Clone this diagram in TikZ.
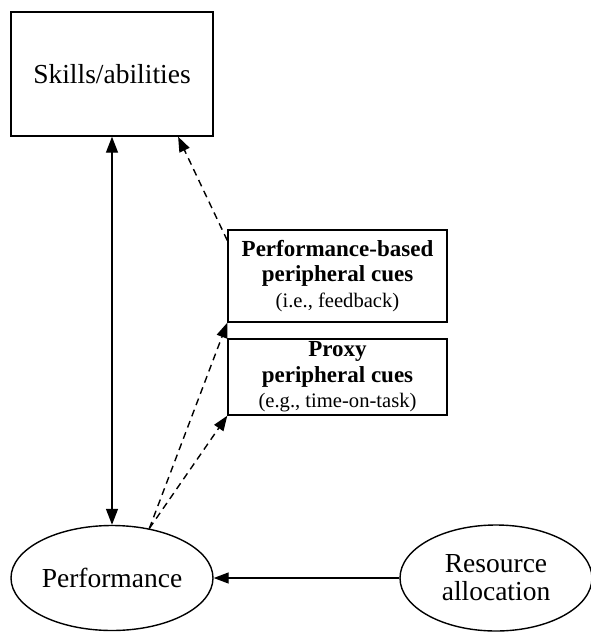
\documentclass[tikz,border=0pt]{standalone}
\usepackage{fontspec}
\setmainfont{Liberation Serif}
\usetikzlibrary{arrows.meta,shapes.geometric,calc}
\begin{document}
\begin{tikzpicture}[x=1pt,y=-1pt,
  line width=1.4pt,
  tip/.style={-{Triangle[length=15pt,width=11pt]}},
  dashedline/.style={dash pattern=on 7pt off 5pt},
  bigtext/.style={font=\fontsize{27.5}{28}\selectfont},
  rectbox/.style={draw, rectangle, inner sep=0pt, align=center},
  ovalbox/.style={draw, ellipse, inner sep=0pt, align=center, bigtext},
  cuebox/.style={rectbox, minimum width=219pt, font=\fontsize{23}{25.5}\selectfont}
]
\useasboundingbox (0,0) rectangle (591,632);

\node[rectbox, bigtext, minimum width=202pt, minimum height=124pt] (skills) at (112,74) {Skills/abilities};

\node[ovalbox, minimum width=202pt, minimum height=105pt] (perf) at (112,578) {Performance};

\node[ovalbox, minimum width=192pt, minimum height=106pt] (res) at (496,578) {Resource\\allocation};

\node[cuebox, minimum height=92pt] (cue1) at (337.5,276)
  {\textbf{Performance-based}\\\textbf{peripheral cues}\\{\fontsize{20.6}{25.5}\selectfont (i.e., feedback)}};

\node[cuebox, minimum height=76pt] (cue2) at (337.5,377)
  {\textbf{Proxy}\\\textbf{peripheral cues}\\{\fontsize{20.6}{25.5}\selectfont (e.g., time-on-task)}};

\coordinate (c1start) at ($(cue1.north west)!0.12!(cue1.south west)$);
\coordinate (skillsend) at ($(skills.south west)!0.825!(skills.south east)$);

\draw[{Triangle[length=16pt,width=12pt]}-{Triangle[length=16pt,width=12pt]}] (skills.south) -- (perf.north);
\draw[tip] (res.west) -- (perf.east);
\draw[tip, dashedline] (c1start) -- (skillsend);
\draw[tip, dashedline] (perf.53) -- (cue1.south west);
\draw[tip, dashedline] (perf.53) -- (cue2.south west);
\end{tikzpicture}
\end{document}
